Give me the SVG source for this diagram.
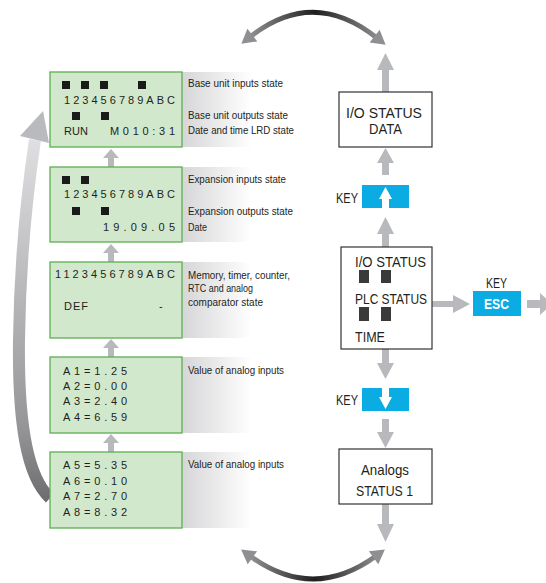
<svg xmlns="http://www.w3.org/2000/svg" width="546" height="583" viewBox="0 0 546 583">
<defs>
<style>
.lcd{fill:#d2e8cc;stroke:#5cae52;stroke-width:1.3}
.lt{font-family:"Liberation Sans",Arial,sans-serif;font-size:11px;fill:#231f20}
.lb{font-family:"Liberation Sans",Arial,sans-serif;font-size:10.5px;fill:#231f20}
.bt{font-family:"Liberation Sans",Arial,sans-serif;font-size:15px;fill:#231f20}
.kt{font-family:"Liberation Sans",Arial,sans-serif;font-size:14px;fill:#231f20}
.sq{fill:#1a1a1a}
.sq2{fill:#3a3a3a}
.box{fill:#fff;stroke:#333;stroke-width:1.2}
.key{fill:#0aace3}
.ga{fill:#b8b9bc}
.pnl{fill:url(#pg)}
</style>
<linearGradient id="pg" x1="0" y1="0" x2="1" y2="0">
<stop offset="0" stop-color="#d6d6d8"/>
<stop offset="1" stop-color="#ffffff"/>
</linearGradient>
<linearGradient id="arcg" gradientUnits="userSpaceOnUse" x1="245" y1="0" x2="385" y2="0">
<stop offset="0" stop-color="#9a9a9d"/>
<stop offset="0.5" stop-color="#1e1e1e"/>
<stop offset="1" stop-color="#9a9a9d"/>
</linearGradient>
<linearGradient id="lg" gradientUnits="userSpaceOnUse" x1="0" y1="120" x2="0" y2="505">
<stop offset="0" stop-color="#e4e4e6"/>
<stop offset="0.8" stop-color="#959597"/>
<stop offset="1" stop-color="#6a6a6c"/>
</linearGradient>
<marker id="ah" markerUnits="userSpaceOnUse" markerWidth="20" markerHeight="20" viewBox="0 -10 16 20" refX="3" refY="0" orient="auto-start-reverse">
<path d="M0,-8 L14,0 L0,8 z" fill="#8f8f92"/>
</marker>
</defs>

<g id="connectors">
<path d="M250,37 Q313,-13 377,38" fill="none" stroke="url(#arcg)" stroke-width="5" marker-start="url(#ah)" marker-end="url(#ah)"/>
<path d="M250,556 Q313,602 376,556" fill="none" stroke="url(#arcg)" stroke-width="5" marker-start="url(#ah)" marker-end="url(#ah)"/>
<path d="M50,498 C26,476 18,420 19,340 C20,262 26,200 35,140" fill="none" stroke="url(#lg)" stroke-width="12"/>
<polygon points="43,111 20,136 49,143" fill="#b9babd"/>
<path class="ga" d="M111,149 L119,158 L114,158 L114,167 L108,167 L108,158 L103,158 z"/>
<path class="ga" d="M111,244 L119,253 L114,253 L114,262 L108,262 L108,253 L103,253 z"/>
<path class="ga" d="M111,339 L119,348 L114,348 L114,357 L108,357 L108,348 L103,348 z"/>
<path class="ga" d="M111,434 L119,443 L114,443 L114,452 L108,452 L108,443 L103,443 z"/>
<path class="ga" d="M385.5,53 L394,70 L389,70 L389,92 L382,92 L382,70 L377,70 z"/>
<path class="ga" d="M385.5,148 L394,163 L389,163 L389,175 L382,175 L382,163 L377,163 z"/>
<path class="ga" d="M385.5,217 L394,234 L389,234 L389,247 L382,247 L382,234 L377,234 z"/>
<path class="ga" d="M385.5,379 L394,363 L389,363 L389,349 L382,349 L382,363 L377,363 z"/>
<path class="ga" d="M385.5,448 L394,432 L389,432 L389,419 L382,419 L382,432 L377,432 z"/>
<path class="ga" d="M385.5,542 L394,524 L389,524 L389,504 L382,504 L382,524 L377,524 z"/>
<path class="ga" d="M470,304 L453,295 L453,301 L432,301 L432,307 L453,307 L453,313 z"/>
<path class="ga" d="M527,300 L540,300 L540,293 L552,304 L540,315 L540,308 L527,308 z"/>
</g>

<g id="lcd1">
<rect class="pnl" x="182" y="72" width="70" height="75"/>
<rect class="lcd" x="50" y="72" width="132" height="75"/>
<rect class="sq" x="62" y="81" width="8" height="8"/><rect class="sq" x="81" y="81" width="8" height="8"/><rect class="sq" x="100" y="81" width="8" height="8"/><rect class="sq" x="138" y="81" width="8" height="8"/>
<text class="lt" x="64" y="104" textLength="111" lengthAdjust="spacing">123456789ABC</text>
<rect class="sq" x="72" y="112" width="8" height="8"/><rect class="sq" x="101" y="112" width="8" height="8"/>
<text class="lt" x="64" y="135" textLength="24" lengthAdjust="spacing">RUN</text>
<text class="lt" x="110" y="135" textLength="65" lengthAdjust="spacing">M010:31</text>
<text class="lb" x="188" y="87" textLength="95" lengthAdjust="spacingAndGlyphs">Base unit inputs state</text>
<text class="lb" x="188" y="119" textLength="100" lengthAdjust="spacingAndGlyphs">Base unit outputs state</text>
<text class="lb" x="188" y="134" textLength="106" lengthAdjust="spacingAndGlyphs">Date and time LRD state</text>
</g>

<g id="lcd2">
<rect class="pnl" x="182" y="167" width="70" height="75"/>
<rect class="lcd" x="50" y="167" width="132" height="75"/>
<rect class="sq" x="62" y="176" width="8" height="8"/><rect class="sq" x="81" y="176" width="8" height="8"/>
<text class="lt" x="64" y="198" textLength="111" lengthAdjust="spacing">123456789ABC</text>
<rect class="sq" x="72" y="207" width="8" height="8"/><rect class="sq" x="101" y="207" width="8" height="8"/>
<text class="lt" x="103" y="231" textLength="72" lengthAdjust="spacing">19.09.05</text>
<text class="lb" x="188" y="183" textLength="98" lengthAdjust="spacingAndGlyphs">Expansion inputs state</text>
<text class="lb" x="188" y="215" textLength="105" lengthAdjust="spacingAndGlyphs">Expansion outputs state</text>
<text class="lb" x="188" y="231" textLength="19" lengthAdjust="spacingAndGlyphs">Date</text>
</g>

<g id="lcd3">
<rect class="pnl" x="182" y="262" width="70" height="76"/>
<rect class="lcd" x="50" y="262" width="132" height="76"/>
<text class="lt" x="55" y="278" textLength="120" lengthAdjust="spacing">1123456789ABC</text>
<text class="lt" x="64" y="310" textLength="24" lengthAdjust="spacing">DEF</text>
<text class="lt" x="159" y="310">-</text>
<text class="lb" x="188" y="279" textLength="102" lengthAdjust="spacingAndGlyphs">Memory, timer, counter,</text>
<text class="lb" x="188" y="292" textLength="65" lengthAdjust="spacingAndGlyphs">RTC and analog</text>
<text class="lb" x="188" y="306" textLength="75" lengthAdjust="spacingAndGlyphs">comparator state</text>
</g>

<g id="lcd4">
<rect class="pnl" x="182" y="357" width="70" height="76"/>
<rect class="lcd" x="50" y="357" width="132" height="76"/>
<text class="lt" x="63" y="375" textLength="64" lengthAdjust="spacing">A1=1.25</text>
<text class="lt" x="63" y="390" textLength="64" lengthAdjust="spacing">A2=0.00</text>
<text class="lt" x="63" y="405" textLength="64" lengthAdjust="spacing">A3=2.40</text>
<text class="lt" x="63" y="421" textLength="64" lengthAdjust="spacing">A4=6.59</text>
<text class="lb" x="188" y="374" textLength="96" lengthAdjust="spacingAndGlyphs">Value of analog inputs</text>
</g>

<g id="lcd5">
<rect class="pnl" x="182" y="452" width="70" height="76"/>
<rect class="lcd" x="50" y="452" width="132" height="76"/>
<text class="lt" x="63" y="469" textLength="64" lengthAdjust="spacing">A5=5.35</text>
<text class="lt" x="63" y="485" textLength="64" lengthAdjust="spacing">A6=0.10</text>
<text class="lt" x="63" y="500" textLength="64" lengthAdjust="spacing">A7=2.70</text>
<text class="lt" x="63" y="516" textLength="64" lengthAdjust="spacing">A8=8.32</text>
<text class="lb" x="188" y="468" textLength="96" lengthAdjust="spacingAndGlyphs">Value of analog inputs</text>
</g>

<g id="io-status-data">
<rect class="box" x="339" y="92" width="93" height="55"/>
<text class="bt" x="346" y="118" textLength="76" lengthAdjust="spacingAndGlyphs">I/O STATUS</text>
<text class="bt" x="369" y="134" textLength="33" lengthAdjust="spacingAndGlyphs">DATA</text>
</g>

<g id="key-up">
<text class="kt" x="336" y="203" textLength="22" lengthAdjust="spacingAndGlyphs">KEY</text>
<rect class="key" x="362" y="185" width="47" height="23"/>
<path d="M385.5,187 L392,199 L389,199 L389,208 L382,208 L382,199 L379,199 z" fill="#fff"/>
</g>

<g id="main-status">
<rect class="box" x="341" y="247" width="91" height="102"/>
<text class="bt" x="355" y="267" textLength="71" lengthAdjust="spacingAndGlyphs">I/O STATUS</text>
<rect class="sq2" x="359" y="270" width="10" height="13"/><rect class="sq2" x="381" y="270" width="10" height="13"/>
<text class="bt" x="355" y="304" textLength="72" lengthAdjust="spacingAndGlyphs">PLC STATUS</text>
<rect class="sq2" x="359" y="307" width="10" height="14"/><rect class="sq2" x="381" y="307" width="10" height="14"/>
<text class="bt" x="355" y="342" textLength="30" lengthAdjust="spacingAndGlyphs">TIME</text>
</g>

<g id="key-esc">
<text class="kt" x="486" y="288" textLength="21" lengthAdjust="spacingAndGlyphs">KEY</text>
<rect class="key" x="473" y="291" width="48" height="25"/>
<text x="484" y="309" textLength="25" lengthAdjust="spacingAndGlyphs" style="font-family:'Liberation Sans',Arial,sans-serif;font-size:14px;font-weight:bold;fill:#fff">ESC</text>
</g>

<g id="key-down">
<text class="kt" x="336" y="405" textLength="22" lengthAdjust="spacingAndGlyphs">KEY</text>
<rect class="key" x="362" y="388" width="47" height="23"/>
<path d="M385.5,409 L392,397 L389,397 L389,388 L382,388 L382,397 L379,397 z" fill="#fff"/>
</g>

<g id="analogs">
<rect class="box" x="339" y="449" width="93" height="55"/>
<text class="bt" x="361" y="475" textLength="48" lengthAdjust="spacingAndGlyphs">Analogs</text>
<text class="bt" x="356" y="496" textLength="57" lengthAdjust="spacingAndGlyphs">STATUS 1</text>
</g>
</svg>
